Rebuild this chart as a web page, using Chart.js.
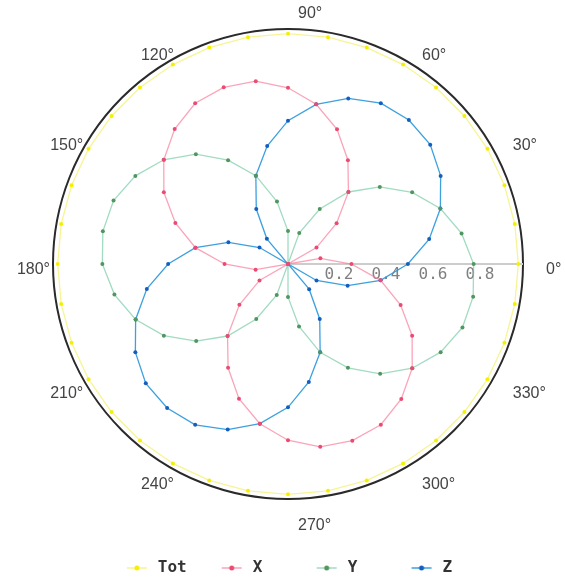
<!DOCTYPE html>
<html>
<head>
<meta charset="utf-8">
<script src="https://cdn.jsdelivr.net/npm/chart.js@4/dist/chart.umd.min.js"></script>
<style>
  html, body { margin: 0; padding: 0; background: #fff; }
  #wrap { width: 565px; height: 586px; }
</style>
</head>
<body>
<div id="wrap"><canvas id="polar"></canvas></div>
<script>
// angles in degrees, counter-clockwise from the right
const angles = [0, 10, 20, 30, 40, 50, 60, 70, 80, 90, 100, 110, 120, 130, 140, 150, 160, 170,
                180, 190, 200, 210, 220, 230, 240, 250, 260, 270, 280, 290, 300, 310, 320, 330, 340, 350];

const totValues = [0.98, 0.98, 0.98, 0.98, 0.98, 0.98, 0.98, 0.98, 0.98, 0.98, 0.98, 0.98,
                   0.98, 0.98, 0.98, 0.98, 0.98, 0.98, 0.98, 0.98, 0.98, 0.98, 0.98, 0.98,
                   0.98, 0.98, 0.98, 0.98, 0.98, 0.98, 0.98, 0.98, 0.98, 0.98, 0.98, 0.98];

const xValues = [0.27, 0.14, 0.00, 0.14, 0.27, 0.40, 0.51, 0.61, 0.69, 0.75, 0.79, 0.80,
                 0.79, 0.75, 0.69, 0.61, 0.51, 0.40, 0.27, 0.14, 0.00, 0.14, 0.27, 0.40,
                 0.51, 0.61, 0.69, 0.75, 0.79, 0.80, 0.79, 0.75, 0.69, 0.61, 0.51, 0.40];

const yValues = [0.79, 0.75, 0.69, 0.61, 0.51, 0.40, 0.27, 0.14, 0.00, 0.14, 0.27, 0.40,
                 0.51, 0.61, 0.69, 0.75, 0.79, 0.80, 0.79, 0.75, 0.69, 0.61, 0.51, 0.40,
                 0.27, 0.14, 0.00, 0.14, 0.27, 0.40, 0.51, 0.61, 0.69, 0.75, 0.79, 0.80];

const zValues = [0.51, 0.61, 0.69, 0.75, 0.79, 0.80, 0.79, 0.75, 0.69, 0.61, 0.51, 0.40,
                 0.27, 0.14, 0.00, 0.14, 0.27, 0.40, 0.51, 0.61, 0.69, 0.75, 0.79, 0.80,
                 0.79, 0.75, 0.69, 0.61, 0.51, 0.40, 0.27, 0.14, 0.00, 0.14, 0.27, 0.40];

const radialTicks = [0.2, 0.4, 0.6, 0.8];
const angleTicks = [0, 30, 60, 90, 120, 150, 180, 210, 240, 270, 300, 330];

// radar goes clockwise, so walk the angles backwards to get a counter-clockwise plot
const order = [0];
for (let i = angles.length - 1; i > 0; i--) order.push(i);
const pick = arr => order.map(i => arr[i]);
const plotAngles = pick(angles);

function legendIcon(lineColor, dotColor) {
    const c = document.createElement('canvas');
    c.width = 22;
    c.height = 8;
    const g = c.getContext('2d');
    g.strokeStyle = lineColor;
    g.lineWidth = 1.5;
    g.beginPath();
    g.moveTo(1, 4);
    g.lineTo(21, 4);
    g.stroke();
    g.fillStyle = dotColor;
    g.beginPath();
    g.arc(11, 4, 2.5, 0, Math.PI * 2);
    g.fill();
    return c;
}

const series = [
    { label: 'Tot', data: totValues, line: 'rgba(240,235,60,0.55)', dot: 'rgb(245,240,0)' },
    { label: 'X', data: xValues, line: 'rgba(250,125,155,0.7)', dot: 'rgb(235,75,115)' },
    { label: 'Y', data: yValues, line: 'rgba(110,200,160,0.65)', dot: 'rgb(80,150,95)' },
    { label: 'Z', data: zValues, line: 'rgba(40,150,220,0.9)', dot: 'rgb(20,95,190)' }
];

// radial value labels along the 0° line, and the degree labels round the rim
const labelPlugin = {
    id: 'polarLabels',
    beforeDatasetsDraw(chart) {
        const scale = chart.scales.r;
        const ctx = chart.ctx;
        ctx.save();
        ctx.font = '16px "DejaVu Sans Mono"';
        ctx.fillStyle = '#808080';
        ctx.textAlign = 'center';
        ctx.textBaseline = 'top';
        radialTicks.forEach(v => {
            const d = scale.getDistanceFromCenterForValue(v);
            ctx.fillText(v.toFixed(1), scale.xCenter + d + 4, scale.yCenter + 3);
        });

        ctx.font = '16px "Liberation Sans", sans-serif';
        ctx.fillStyle = '#444';
        angleTicks.forEach(a => {
            const idx = plotAngles.indexOf(a);
            const p = scale.getPointPosition(idx, scale.drawingArea + 13);
            const c = Math.cos(a * Math.PI / 180);
            ctx.textAlign = c < -0.1 ? 'right' : 'left';
            ctx.textBaseline = a === 90 ? 'bottom' : (a === 270 ? 'top' : 'middle');
            ctx.fillText(a + '°', p.x + 10, p.y + 6);
        });
        ctx.restore();
    }
};

new Chart(document.getElementById('polar'), {
    type: 'radar',
    data: {
        labels: plotAngles.map(a => a + '°'),
        datasets: series.map(s => ({
            label: s.label,
            data: pick(s.data),
            borderColor: s.line,
            backgroundColor: s.dot,
            pointBackgroundColor: s.dot,
            pointBorderWidth: 0,
            pointRadius: 2,
            pointHoverRadius: 2,
            borderWidth: 1.3,
            fill: false,
            tension: 0,
            legendIcon: legendIcon(s.line, s.dot)
        }))
    },
    options: {
        responsive: true,
        maintainAspectRatio: false,
        animation: false,
        layout: { padding: { top: 0, left: 53, right: 42, bottom: 0 } },
        scales: {
            r: {
                min: 0,
                max: 1,
                startAngle: 90,
                ticks: { display: false, stepSize: 0.2 },
                grid: {
                    circular: true,
                    color: ctx => (ctx.tick && ctx.tick.value === 1 ? '#2a2a2a' : 'rgba(0,0,0,0)'),
                    lineWidth: 2
                },
                angleLines: {
                    color: ctx => (ctx.index === 0 ? '#ccc' : 'rgba(0,0,0,0)'),
                    lineWidth: 2
                },
                pointLabels: { display: false }
            }
        },
        plugins: {
            legend: {
                position: 'bottom',
                labels: {
                    usePointStyle: true,
                    pointStyleWidth: 26,
                    padding: 32,
                    color: '#333',
                    font: { family: '"DejaVu Sans Mono", monospace', size: 16, weight: 'bold' },
                    generateLabels(chart) {
                        // pad the short names (not the last) so the items sit evenly apart
                        const last = chart.data.datasets.length - 1;
                        return chart.data.datasets.map((ds, i) => ({
                            text: i < last ? ds.label.padEnd(3, ' ') : ds.label,
                            pointStyle: ds.legendIcon,
                            fillStyle: ds.pointBackgroundColor,
                            strokeStyle: ds.borderColor,
                            lineWidth: 0,
                            hidden: !chart.isDatasetVisible(i),
                            datasetIndex: i,
                            fontColor: '#333'
                        }));
                    }
                }
            },
            tooltip: { enabled: false }
        }
    },
    plugins: [labelPlugin]
});
</script>
</body>
</html>
